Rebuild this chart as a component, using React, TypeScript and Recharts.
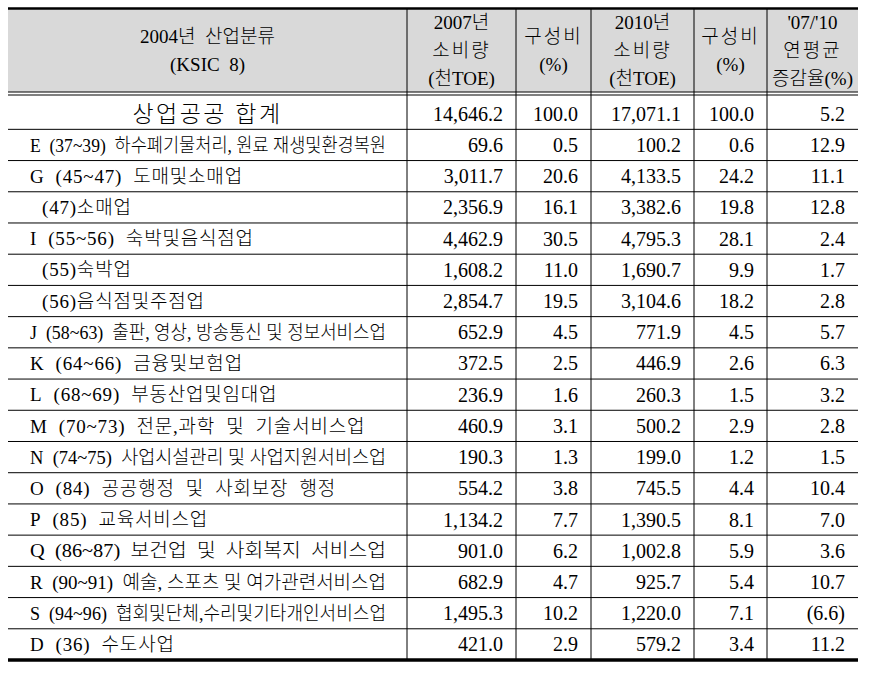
import { ReferenceLine, Scatter, ScatterChart, XAxis, YAxis } from 'recharts';

const CATEGORIES = [
  '상업공공 합계',
  'E  (37~39)  하수폐기물처리, 원료 재생및환경복원',
  'G  (45~47)  도매및소매업',
  '(47)소매업',
  'I  (55~56)  숙박및음식점업',
  '(55)숙박업',
  '(56)음식점및주점업',
  'J  (58~63)  출판, 영상, 방송통신 및 정보서비스업',
  'K  (64~66)  금융및보험업',
  'L  (68~69)  부동산업및임대업',
  'M  (70~73)  전문,과학  및  기술서비스업',
  'N  (74~75)  사업시설관리 및 사업지원서비스업',
  'O  (84)  공공행정  및  사회보장  행정',
  'P  (85)  교육서비스업',
  'Q  (86~87)  보건업  및  사회복지  서비스업',
  'R  (90~91)  예술, 스포츠 및 여가관련서비스업',
  'S  (94~96)  협회및단체,수리및기타개인서비스업',
  'D  (36)  수도사업',
];
const CONS_2007 = [14646.2, 69.6, 3011.7, 2356.9, 4462.9, 1608.2, 2854.7, 652.9, 372.5, 236.9, 460.9, 190.3, 554.2, 1134.2, 901.0, 682.9, 1495.3, 421.0];
const SHARE_2007 = [100.0, 0.5, 20.6, 16.1, 30.5, 11.0, 19.5, 4.5, 2.5, 1.6, 3.1, 1.3, 3.8, 7.7, 6.2, 4.7, 10.2, 2.9];
const CONS_2010 = [17071.1, 100.2, 4133.5, 3382.6, 4795.3, 1690.7, 3104.6, 771.9, 446.9, 260.3, 500.2, 199.0, 745.5, 1390.5, 1002.8, 925.7, 1220.0, 579.2];
const SHARE_2010 = [100.0, 0.6, 24.2, 19.8, 28.1, 9.9, 18.2, 4.5, 2.6, 1.5, 2.9, 1.2, 4.4, 8.1, 5.9, 5.4, 7.1, 3.4];
const GROWTH = [5.2, 12.9, 11.1, 12.8, 2.4, 1.7, 2.8, 5.7, 6.3, 3.2, 2.8, 1.5, 10.4, 7.0, 3.6, 10.7, -6.6, 11.2];

const HEADERS = [
  ['2004년  산업분류', '(KSIC  8)'],
  ['2007년', '소비량', '(천TOE)'],
  ['구성비', '(%)'],
  ['2010년', '소비량', '(천TOE)'],
  ['구성비', '(%)'],
  ["'07/'10", '연평균', '증감율(%)'],
];

// table layout (x axis units = px inside the plot)
const COL_EDGES = [0, 399, 508, 583, 686, 759, 850];
const COL_CENTERS = COL_EDGES.slice(0, -1).map((e, i) => (e + COL_EDGES[i + 1]) / 2);
const FONT = "'Liberation Serif', 'Noto Sans CJK KR', serif";
const LABEL_MAX_W = 360;
const LABEL_LS = 0.8;

const fmt = (v: number) => {
  const s = Math.abs(v).toLocaleString('en-US', { minimumFractionDigits: 1, maximumFractionDigits: 1 });
  return v < 0 ? `(${s})` : s;
};

// keep the double spaces of the source table
const keepSpaces = (s: string) => s.replace(/ /g, '\u00a0');

const estWidth = (s: string, fs: number) => {
  let w = 0;
  for (const ch of s) {
    if (/[\uac00-\ud7a3]/.test(ch)) w += 1;
    else if (ch === ' ' || ch === ',' || ch === '.') w += 0.25;
    else if (/[()]/.test(ch)) w += 0.333;
    else if (/[0-9~]/.test(ch)) w += 0.5;
    else w += 0.65;
  }
  return w * fs + s.length * LABEL_LS;
};

const labelData = CATEGORIES.map((name, i) => ({ x: COL_EDGES[0], y: i, text: name }));
const numberColumns = [CONS_2007, SHARE_2007, CONS_2010, SHARE_2010, GROWTH].map((arr, c) =>
  arr.map((v, i) => ({ x: COL_EDGES[c + 2], y: i, text: fmt(v) })),
);

const renderLabel = (props: any) => {
  const { cx, cy, payload } = props;
  const text: string = payload.text;
  if (payload.y === 0) {
    return (
      <text x={cx + (COL_EDGES[1] - COL_EDGES[0]) / 2} y={cy} dy="0.35em" textAnchor="middle"
        fontFamily={FONT} fontSize={23} fontWeight={300} letterSpacing={2.5} fill="#000">
        {keepSpaces(text)}
      </text>
    );
  }
  const indent = text.startsWith('(');
  const fs = 19;
  const w = estWidth(text, fs);
  const fit = w > LABEL_MAX_W
    ? { textLength: LABEL_MAX_W - 4, lengthAdjust: 'spacingAndGlyphs' }
    : { letterSpacing: LABEL_LS };
  return (
    <text x={cx + (indent ? 34 : 22)} y={cy} dy="0.35em" fontFamily={FONT} fontSize={fs}
      fontWeight={300} fill="#000" {...fit}>
      {keepSpaces(text)}
    </text>
  );
};

const renderNumber = (props: any) => {
  const { cx, cy, payload } = props;
  return (
    <text x={cx - 13} y={cy} dy="0.35em" textAnchor="end" fontFamily={FONT} fontSize={20} fill="#000">
      {payload.text}
    </text>
  );
};

const HeaderTick = (props: any) => {
  const { x, y, index } = props;
  const left = x - (COL_CENTERS[index] - COL_EDGES[index]);
  const w = COL_EDGES[index + 1] - COL_EDGES[index];
  const lines = HEADERS[index] ?? [];
  const top = y - 86;
  const mid = y - 44.5;
  return (
    <g>
      <rect x={left} y={top} width={w} height={83} fill="#d9d9d9" />
      <line x1={left} x2={left + w} y1={top - 0.5} y2={top - 0.5} stroke="#000" strokeWidth={2.6} />
      <line x1={left} x2={left + w} y1={y - 3} y2={y - 3} stroke="#000" strokeWidth={1} />
      {index > 0 && <line x1={left} x2={left} y1={top} y2={y} stroke="#000" strokeWidth={1} />}
      <text fontFamily={FONT} fontSize={19} fontWeight={300} fill="#000" textAnchor="middle">
        {lines.map((t, j) => (
          <tspan key={j} x={x} y={mid + (j - (lines.length - 1) / 2) * 28} dy="0.35em"
            letterSpacing={/^[\uac00-\ud7a3]{3}$/.test(t) ? 2 : 0}>
            {keepSpaces(t)}
          </tspan>
        ))}
      </text>
    </g>
  );
};

export default function App() {
  return (
    <div style={{ position: 'absolute', left: 0, top: 0, width: 879, height: 683, background: '#fff' }}>
      <ScatterChart width={879} height={683} margin={{ top: 9, right: 21, bottom: 23, left: 8 }}>
        <XAxis
          type="number"
          dataKey="x"
          orientation="top"
          domain={[COL_EDGES[0], COL_EDGES[COL_EDGES.length - 1]]}
          ticks={COL_CENTERS}
          interval={0}
          height={86}
          tickSize={0}
          tickMargin={0}
          axisLine={false}
          tickLine={false}
          tick={<HeaderTick />}
          allowDataOverflow
        />
        <YAxis type="number" dataKey="y" domain={[-0.6, CATEGORIES.length - 0.5]} reversed hide allowDataOverflow />
        {COL_EDGES.slice(1, -1).map((e) => (
          <ReferenceLine key={`v${e}`} x={e} stroke="#000" strokeWidth={1} />
        ))}
        <ReferenceLine y={-0.6} stroke="#000" strokeWidth={1} />
        {CATEGORIES.slice(0, -1).map((_, i) => (
          <ReferenceLine key={`h${i}`} y={i + 0.5} stroke="#000" strokeWidth={1} />
        ))}
        <ReferenceLine y={CATEGORIES.length - 0.5} stroke="#000" strokeWidth={3.5} />
        <Scatter data={labelData} shape={renderLabel} isAnimationActive={false} />
        {numberColumns.map((d, c) => (
          <Scatter key={c} data={d} shape={renderNumber} isAnimationActive={false} />
        ))}
      </ScatterChart>
    </div>
  );
}
